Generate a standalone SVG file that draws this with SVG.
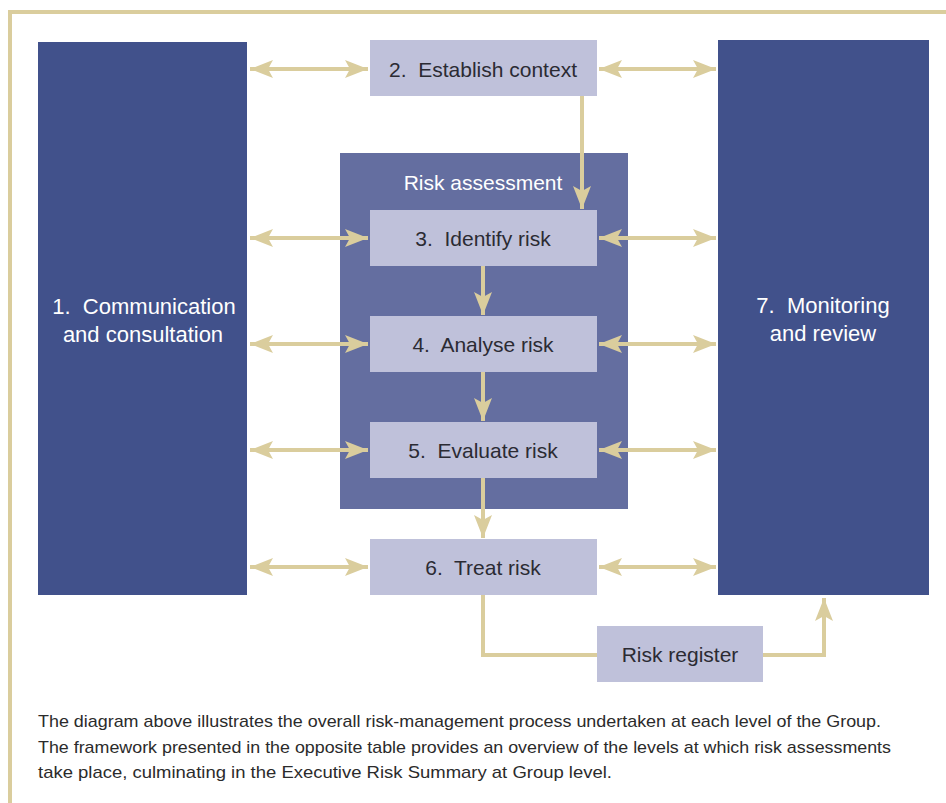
<svg xmlns="http://www.w3.org/2000/svg" width="946" height="803" viewBox="0 0 946 803">
  <style>
    .big { fill: #41518b; }
    .step { fill: #bfc1da; }
    .group { fill: #646ea0; }
    .lbl { font-family: "Liberation Sans", Arial, sans-serif; font-size: 21px; fill: #2b2b33; text-anchor: middle; }
    .wlbl { font-family: "Liberation Sans", Arial, sans-serif; font-size: 21px; fill: #ffffff; text-anchor: middle; }
    .wbig { font-family: "Liberation Sans", Arial, sans-serif; font-size: 22px; fill: #ffffff; text-anchor: middle; }
    .cap { font-family: "Liberation Sans", Arial, sans-serif; font-size: 17px; fill: #2b2b2b; }
    .conn { stroke: #dacd9d; stroke-width: 4; fill: none; }
  </style>
  <defs>
    <marker id="head" markerUnits="userSpaceOnUse" markerWidth="24" markerHeight="18" refX="23" refY="9" orient="auto-start-reverse">
      <path d="M0,0 L23,9 L0,18 L5,9 Z" fill="#dacd9d"/>
    </marker>
  </defs>

  <!-- frame -->
  <path d="M10,803 V12 H946" fill="none" stroke="#dacd9d" stroke-width="4"/>

  <g id="node-communication">
    <rect class="big" x="38" y="42" width="209" height="553"/>
    <text class="wbig" x="144" y="314">1.&#160; Communication</text>
    <text class="wbig" x="143" y="342">and consultation</text>
  </g>

  <g id="node-monitoring">
    <rect class="big" x="718" y="40" width="211" height="555"/>
    <text class="wbig" x="823" y="313">7.&#160; Monitoring</text>
    <text class="wbig" x="823" y="341">and review</text>
  </g>

  <g id="node-risk-assessment">
    <rect class="group" x="340" y="153" width="288" height="356"/>
    <text class="wlbl" x="483" y="190">Risk assessment</text>
  </g>

  <g id="node-context">
    <rect class="step" x="370" y="40" width="227" height="56"/>
    <text class="lbl" x="483" y="77">2.&#160; Establish context</text>
  </g>

  <g id="node-identify">
    <rect class="step" x="370" y="210" width="227" height="56"/>
    <text class="lbl" x="483" y="246">3.&#160; Identify risk</text>
  </g>

  <g id="node-analyse">
    <rect class="step" x="370" y="316" width="227" height="56"/>
    <text class="lbl" x="483" y="352">4.&#160; Analyse risk</text>
  </g>

  <g id="node-evaluate">
    <rect class="step" x="370" y="422" width="227" height="56"/>
    <text class="lbl" x="483" y="458">5.&#160; Evaluate risk</text>
  </g>

  <g id="node-treat">
    <rect class="step" x="370" y="539" width="227" height="56"/>
    <text class="lbl" x="483" y="575">6.&#160; Treat risk</text>
  </g>

  <g id="node-register">
    <rect class="step" x="597" y="626" width="166" height="56"/>
    <text class="lbl" x="680" y="662">Risk register</text>
  </g>

  <g id="connectors">
    <!-- two-way links to communication (left) and monitoring (right) -->
    <line class="conn" x1="250" y1="69" x2="368" y2="69" marker-start="url(#head)" marker-end="url(#head)"/>
    <line class="conn" x1="599" y1="69" x2="716" y2="69" marker-start="url(#head)" marker-end="url(#head)"/>
    <line class="conn" x1="250" y1="238" x2="368" y2="238" marker-start="url(#head)" marker-end="url(#head)"/>
    <line class="conn" x1="599" y1="238" x2="716" y2="238" marker-start="url(#head)" marker-end="url(#head)"/>
    <line class="conn" x1="250" y1="344" x2="368" y2="344" marker-start="url(#head)" marker-end="url(#head)"/>
    <line class="conn" x1="599" y1="344" x2="716" y2="344" marker-start="url(#head)" marker-end="url(#head)"/>
    <line class="conn" x1="250" y1="450" x2="368" y2="450" marker-start="url(#head)" marker-end="url(#head)"/>
    <line class="conn" x1="599" y1="450" x2="716" y2="450" marker-start="url(#head)" marker-end="url(#head)"/>
    <line class="conn" x1="250" y1="567" x2="368" y2="567" marker-start="url(#head)" marker-end="url(#head)"/>
    <line class="conn" x1="599" y1="567" x2="716" y2="567" marker-start="url(#head)" marker-end="url(#head)"/>

    <!-- process flow -->
    <line class="conn" x1="582" y1="96" x2="582" y2="209" marker-end="url(#head)"/>
    <line class="conn" x1="483" y1="266" x2="483" y2="315" marker-end="url(#head)"/>
    <line class="conn" x1="483" y1="372" x2="483" y2="421" marker-end="url(#head)"/>
    <line class="conn" x1="483" y1="478" x2="483" y2="538" marker-end="url(#head)"/>

    <!-- treat risk -> register -> monitoring -->
    <polyline class="conn" points="483,595 483,655 597,655"/>
    <polyline class="conn" points="763,655 824,655 824,598" marker-end="url(#head)"/>
  </g>

  <g id="caption">
    <text class="cap" x="38" y="727" textLength="843" lengthAdjust="spacingAndGlyphs">The diagram above illustrates the overall risk-management process undertaken at each level of the Group.</text>
    <text class="cap" x="38" y="753" textLength="853" lengthAdjust="spacingAndGlyphs">The framework presented in the opposite table provides an overview of the levels at which risk assessments</text>
    <text class="cap" x="38" y="778" textLength="574" lengthAdjust="spacingAndGlyphs">take place, culminating in the Executive Risk Summary at Group level.</text>
  </g>
</svg>
